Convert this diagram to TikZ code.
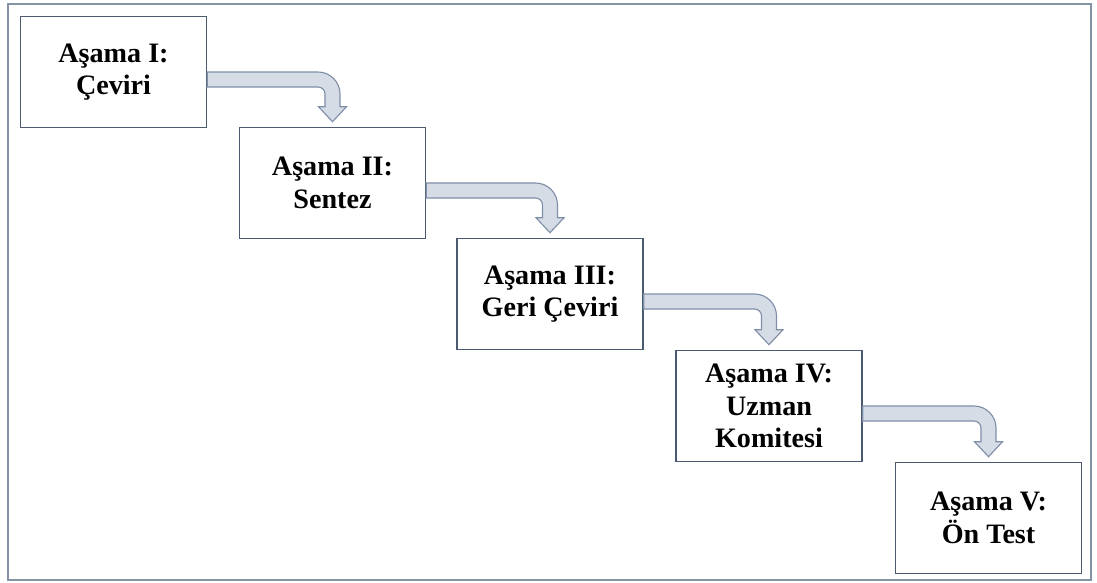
\documentclass[tikz,border=0pt]{standalone}
\usepackage{fontspec}
\setmainfont{Liberation Serif}
\usetikzlibrary{calc}
\definecolor{frameline}{HTML}{8593A6}
\definecolor{boxline}{HTML}{4A5A70}
\definecolor{arrowfill}{HTML}{D6DCE5}
\definecolor{arrowline}{HTML}{7F8FA8}

\begin{document}
\begin{tikzpicture}[x=0.025cm,y=0.025cm,
  stage/.style={draw=boxline,line width=1.1pt,fill=white,
    minimum width=4.65cm,minimum height=2.775cm,align=center,inner sep=2pt,
    font=\fontsize{20}{23}\selectfont\bfseries},
  flow/.style={draw=arrowline,fill=arrowfill,line width=0.8pt,line join=miter}]
\useasboundingbox (0,0) rectangle (1097,-583);
\draw[frameline,line width=1.2pt] (8,-4) rectangle (1091,-580);
\node[stage] (s1) at (113.5,-72) {Aşama I:\\Çeviri};
\node[stage] (s2) at (332.5,-183) {Aşama II:\\Sentez};
\node[stage] (s3) at (550,-294) {Aşama III:\\Geri Çeviri};
\node[stage] (s4) at (769,-406) {Aşama IV:\\Uzman\\Komitesi};
\node[stage] (s5) at (988.5,-518) {Aşama V:\\Ön Test};
% bent arrows
\foreach \a/\b in {s1/s2,s2/s3,s3/s4,s4/s5}
  \draw[flow] let \p1=(\a.east), \p2=(\b.north) in
    (\x1,\y1) -- (\x2-0.3625cm,\y1) arc[start angle=90,end angle=0,radius=0.55cm]
    -- (\x2+0.1875cm,\y2+0.5cm) -- (\x2+0.35cm,\y2+0.5cm) -- (\x2,\y2+0.125cm)
    -- (\x2-0.35cm,\y2+0.5cm) -- (\x2-0.1875cm,\y2+0.5cm)
    -- (\x2-0.1875cm,\y1-0.55cm) arc[start angle=0,end angle=90,radius=0.175cm]
    -- (\x1,\y1-0.375cm) -- cycle;
\end{tikzpicture}
\end{document}
